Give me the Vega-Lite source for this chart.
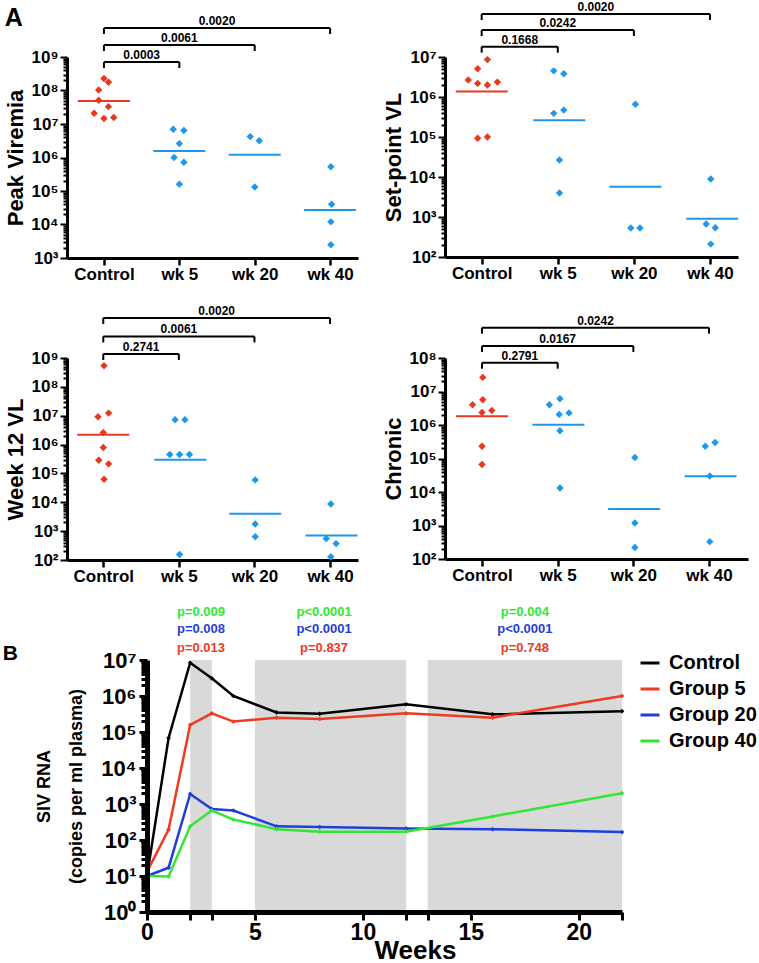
{
  "$schema": "https://vega.github.io/schema/vega-lite/v6.json",
  "background": "white",
  "padding": {"left": 2, "top": 0, "right": 0, "bottom": 0},
  "align": "none",
  "spacing": 22,
  "resolve": {"scale": {"color": "independent"}},
  "config": {
    "view": {"stroke": null},
    "font": "Liberation Sans",
    "axis": {"labelFont": "Liberation Sans", "titleFont": "Liberation Sans", "labelColor": "black", "titleColor": "black", "tickColor": "black", "domainColor": "black", "grid": false},
    "text": {"font": "Liberation Sans"},
    "title": {"font": "Liberation Sans", "color": "black"},
    "legend": {"labelFont": "Liberation Sans", "labelColor": "black"}
  },
  "datasets": {
    "pts": [
      {"p": "pk", "x": 0.0, "v": 2.27e8, "k": "c"},
      {"p": "pk", "x": 0.06, "v": 1.76e8, "k": "c"},
      {"p": "pk", "x": -0.07, "v": 1.04e8, "k": "c"},
      {"p": "pk", "x": -0.07, "v": 5.1e7, "k": "c"},
      {"p": "pk", "x": 0.06, "v": 3.3e7, "k": "c"},
      {"p": "pk", "x": -0.13, "v": 2.1e7, "k": "c"},
      {"p": "pk", "x": 0.0, "v": 1.46e7, "k": "c"},
      {"p": "pk", "x": 0.13, "v": 1.57e7, "k": "c"},
      {"p": "pk", "x": 0.92, "v": 7.0e6, "k": "t"},
      {"p": "pk", "x": 1.06, "v": 6.4e6, "k": "t"},
      {"p": "pk", "x": 1.0, "v": 2.6e6, "k": "t"},
      {"p": "pk", "x": 0.93, "v": 1.0e6, "k": "t"},
      {"p": "pk", "x": 1.06, "v": 7.2e5, "k": "t"},
      {"p": "pk", "x": 1.0, "v": 1.6e5, "k": "t"},
      {"p": "pk", "x": 1.94, "v": 4.2e6, "k": "t"},
      {"p": "pk", "x": 2.06, "v": 3.16e6, "k": "t"},
      {"p": "pk", "x": 2.0, "v": 1.32e5, "k": "t"},
      {"p": "pk", "x": 3.01, "v": 5.3e5, "k": "t"},
      {"p": "pk", "x": 3.02, "v": 4.0e4, "k": "t"},
      {"p": "pk", "x": 3.01, "v": 1.2e4, "k": "t"},
      {"p": "pk", "x": 3.01, "v": 2.5e3, "k": "t"},
      {"p": "sp", "x": 0.075, "v": 8.6e6, "k": "c"},
      {"p": "sp", "x": -0.053, "v": 5.1e6, "k": "c"},
      {"p": "sp", "x": -0.176, "v": 2.65e6, "k": "c"},
      {"p": "sp", "x": -0.053, "v": 2.19e6, "k": "c"},
      {"p": "sp", "x": 0.075, "v": 1.99e6, "k": "c"},
      {"p": "sp", "x": 0.207, "v": 2.36e6, "k": "c"},
      {"p": "sp", "x": -0.053, "v": 9.3e4, "k": "c"},
      {"p": "sp", "x": 0.075, "v": 1.0e5, "k": "c"},
      {"p": "sp", "x": 0.947, "v": 4.5e6, "k": "t"},
      {"p": "sp", "x": 1.079, "v": 3.8e6, "k": "t"},
      {"p": "sp", "x": 0.947, "v": 3.9e5, "k": "t"},
      {"p": "sp", "x": 1.079, "v": 4.7e5, "k": "t"},
      {"p": "sp", "x": 1.022, "v": 2.66e4, "k": "t"},
      {"p": "sp", "x": 1.022, "v": 4.0e3, "k": "t"},
      {"p": "sp", "x": 2.02, "v": 6.6e5, "k": "t"},
      {"p": "sp", "x": 1.96, "v": 5.3e2, "k": "t"},
      {"p": "sp", "x": 2.08, "v": 5.3e2, "k": "t"},
      {"p": "sp", "x": 3.01, "v": 8.9e3, "k": "t"},
      {"p": "sp", "x": 2.95, "v": 6.7e2, "k": "t"},
      {"p": "sp", "x": 3.07, "v": 5.4e2, "k": "t"},
      {"p": "sp", "x": 3.01, "v": 2.1e2, "k": "t"},
      {"p": "w12", "x": 0.01, "v": 5.4e8, "k": "c"},
      {"p": "w12", "x": -0.07, "v": 9.2e6, "k": "c"},
      {"p": "w12", "x": 0.07, "v": 1.23e7, "k": "c"},
      {"p": "w12", "x": 0.0, "v": 2.6e6, "k": "c"},
      {"p": "w12", "x": 0.0, "v": 7.9e5, "k": "c"},
      {"p": "w12", "x": -0.06, "v": 2.87e5, "k": "c"},
      {"p": "w12", "x": 0.07, "v": 2.14e5, "k": "c"},
      {"p": "w12", "x": 0.01, "v": 6.3e4, "k": "c"},
      {"p": "w12", "x": 0.95, "v": 7.2e6, "k": "t"},
      {"p": "w12", "x": 1.08, "v": 7.2e6, "k": "t"},
      {"p": "w12", "x": 0.88, "v": 4.5e5, "k": "t"},
      {"p": "w12", "x": 1.01, "v": 4.5e5, "k": "t"},
      {"p": "w12", "x": 1.14, "v": 4.5e5, "k": "t"},
      {"p": "w12", "x": 1.01, "v": 1.56e2, "k": "t"},
      {"p": "w12", "x": 2.01, "v": 5.96e4, "k": "t"},
      {"p": "w12", "x": 2.01, "v": 1.77e3, "k": "t"},
      {"p": "w12", "x": 2.01, "v": 6.4e2, "k": "t"},
      {"p": "w12", "x": 3.01, "v": 8.7e3, "k": "t"},
      {"p": "w12", "x": 2.95, "v": 5.5e2, "k": "t"},
      {"p": "w12", "x": 3.08, "v": 3.7e2, "k": "t"},
      {"p": "w12", "x": 3.01, "v": 1.3e2, "k": "t"},
      {"p": "chr", "x": 0.01, "v": 2.64e7, "k": "c"},
      {"p": "chr", "x": -0.125, "v": 4.0e6, "k": "c"},
      {"p": "chr", "x": 0.01, "v": 5.7e6, "k": "c"},
      {"p": "chr", "x": 0.13, "v": 2.7e6, "k": "c"},
      {"p": "chr", "x": 0.0, "v": 2.37e6, "k": "c"},
      {"p": "chr", "x": 0.0, "v": 2.33e5, "k": "c"},
      {"p": "chr", "x": 0.0, "v": 6.6e4, "k": "c"},
      {"p": "chr", "x": 1.03, "v": 6.1e6, "k": "t"},
      {"p": "chr", "x": 0.89, "v": 4.0e6, "k": "t"},
      {"p": "chr", "x": 1.02, "v": 2.07e6, "k": "t"},
      {"p": "chr", "x": 1.15, "v": 2.3e6, "k": "t"},
      {"p": "chr", "x": 1.03, "v": 6.7e5, "k": "t"},
      {"p": "chr", "x": 1.03, "v": 1.32e4, "k": "t"},
      {"p": "chr", "x": 2.02, "v": 1.07e5, "k": "t"},
      {"p": "chr", "x": 2.02, "v": 1.19e3, "k": "t"},
      {"p": "chr", "x": 2.02, "v": 2.2e2, "k": "t"},
      {"p": "chr", "x": 2.95, "v": 2.33e5, "k": "t"},
      {"p": "chr", "x": 3.08, "v": 3.0e5, "k": "t"},
      {"p": "chr", "x": 3.01, "v": 3.0e4, "k": "t"},
      {"p": "chr", "x": 3.01, "v": 3.3e2, "k": "t"}
    ],
    "med": [
      {"p": "pk", "g": 0, "v": 4.9e7, "k": "c"},
      {"p": "pk", "g": 1, "v": 1.56e6, "k": "t"},
      {"p": "pk", "g": 2, "v": 1.21e6, "k": "t"},
      {"p": "pk", "g": 3, "v": 2.7e4, "k": "t"},
      {"p": "sp", "g": 0, "v": 1.38e6, "k": "c"},
      {"p": "sp", "g": 1.02, "v": 2.63e5, "k": "t"},
      {"p": "sp", "g": 2.02, "v": 5.7e3, "k": "t"},
      {"p": "sp", "g": 3.03, "v": 9.0e2, "k": "t"},
      {"p": "w12", "g": 0, "v": 2.18e6, "k": "c"},
      {"p": "w12", "g": 1.02, "v": 3.0e5, "k": "t"},
      {"p": "w12", "g": 2.01, "v": 4.0e3, "k": "t"},
      {"p": "w12", "g": 3.02, "v": 7.0e2, "k": "t"},
      {"p": "chr", "g": 0, "v": 1.84e6, "k": "c"},
      {"p": "chr", "g": 1.01, "v": 1.01e6, "k": "t"},
      {"p": "chr", "g": 2.01, "v": 3.1e3, "k": "t"},
      {"p": "chr", "g": 3.02, "v": 2.95e4, "k": "t"}
    ],
    "brk": [
      {"p": "pk", "from": 0, "to": 1, "level": 7.1e8, "label": "0.0003"},
      {"p": "pk", "from": 0, "to": 2, "level": 2.28e9, "label": "0.0061"},
      {"p": "pk", "from": 0, "to": 3, "level": 7.35e9, "label": "0.0020"},
      {"p": "sp", "from": 0, "to": 1, "level": 1.81e7, "label": "0.1668"},
      {"p": "sp", "from": 0, "to": 2, "level": 4.73e7, "label": "0.0242"},
      {"p": "sp", "from": 0, "to": 3, "level": 1.19e8, "label": "0.0020"},
      {"p": "w12", "from": 0, "to": 1, "level": 1.38e9, "label": "0.2741"},
      {"p": "w12", "from": 0, "to": 2, "level": 5.6e9, "label": "0.0061"},
      {"p": "w12", "from": 0, "to": 3, "level": 2.44e10, "label": "0.0020"},
      {"p": "chr", "from": 0, "to": 1, "level": 7.24e7, "label": "0.2791"},
      {"p": "chr", "from": 0, "to": 2, "level": 2.29e8, "label": "0.0167"},
      {"p": "chr", "from": 0, "to": 3, "level": 8.06e8, "label": "0.0242"}
    ],
    "vl": [
      {"grp": "Control", "wk": 0, "v": 10}, {"grp": "Control", "wk": 1, "v": 6.8e4}, {"grp": "Control", "wk": 2, "v": 8.4e6}, {"grp": "Control", "wk": 3, "v": 3.1e6}, {"grp": "Control", "wk": 4, "v": 1.0e6}, {"grp": "Control", "wk": 6, "v": 3.5e5}, {"grp": "Control", "wk": 8, "v": 3.2e5}, {"grp": "Control", "wk": 12, "v": 5.9e5}, {"grp": "Control", "wk": 16, "v": 3.1e5}, {"grp": "Control", "wk": 22, "v": 3.8e5},
      {"grp": "Group 5", "wk": 0, "v": 13}, {"grp": "Group 5", "wk": 1, "v": 195}, {"grp": "Group 5", "wk": 2, "v": 1.58e5}, {"grp": "Group 5", "wk": 3, "v": 3.3e5}, {"grp": "Group 5", "wk": 4, "v": 1.95e5}, {"grp": "Group 5", "wk": 6, "v": 2.5e5}, {"grp": "Group 5", "wk": 8, "v": 2.3e5}, {"grp": "Group 5", "wk": 12, "v": 3.3e5}, {"grp": "Group 5", "wk": 16, "v": 2.5e5}, {"grp": "Group 5", "wk": 22, "v": 1.0e6},
      {"grp": "Group 20", "wk": 0, "v": 10}, {"grp": "Group 20", "wk": 1, "v": 17}, {"grp": "Group 20", "wk": 2, "v": 1900}, {"grp": "Group 20", "wk": 3, "v": 730}, {"grp": "Group 20", "wk": 4, "v": 660}, {"grp": "Group 20", "wk": 6, "v": 240}, {"grp": "Group 20", "wk": 8, "v": 230}, {"grp": "Group 20", "wk": 12, "v": 210}, {"grp": "Group 20", "wk": 16, "v": 200}, {"grp": "Group 20", "wk": 22, "v": 166},
      {"grp": "Group 40", "wk": 0, "v": 10}, {"grp": "Group 40", "wk": 1, "v": 9.7}, {"grp": "Group 40", "wk": 2, "v": 240}, {"grp": "Group 40", "wk": 3, "v": 660}, {"grp": "Group 40", "wk": 4, "v": 370}, {"grp": "Group 40", "wk": 6, "v": 200}, {"grp": "Group 40", "wk": 8, "v": 170}, {"grp": "Group 40", "wk": 12, "v": 170}, {"grp": "Group 40", "wk": 16, "v": 450}, {"grp": "Group 40", "wk": 22, "v": 2000}
    ],
    "pv": [
      {"x": 2.5, "v": 2.1e8, "grp": "Group 40", "label": "p=0.009"},
      {"x": 2.5, "v": 7.1e7, "grp": "Group 20", "label": "p=0.008"},
      {"x": 2.5, "v": 2.2e7, "grp": "Group 5", "label": "p=0.013"},
      {"x": 8.2, "v": 2.1e8, "grp": "Group 40", "label": "p<0.0001"},
      {"x": 8.2, "v": 7.1e7, "grp": "Group 20", "label": "p<0.0001"},
      {"x": 8.2, "v": 2.2e7, "grp": "Group 5", "label": "p=0.837"},
      {"x": 17.5, "v": 2.1e8, "grp": "Group 40", "label": "p=0.004"},
      {"x": 17.5, "v": 7.1e7, "grp": "Group 20", "label": "p<0.0001"},
      {"x": 17.5, "v": 2.1e7, "grp": "Group 5", "label": "p=0.748"}
    ],
    "shade": [
      {"x1": 2, "x2": 3}, {"x1": 5, "x2": 12}, {"x1": 13, "x2": 22}
    ]
  },
  "vconcat": [
    {
      "bounds": "flush",
      "align": "none",
      "spacing": 87,
      "hconcat": [
        {
          "width": 291, "height": 201,
          "title": {"text": "A", "anchor": "start", "frame": "bounds", "offset": -36, "fontSize": 25, "fontWeight": "bold", "baseline": "alphabetic"},
          "layer": [
            {"data": {"name": "pts"}, "transform": [{"filter": "datum.p === 'pk'"}],
             "mark": {"type": "point", "shape": "diamond", "filled": true, "size": 55, "opacity": 1},
             "encoding": {
               "x": {"field": "x", "type": "quantitative", "scale": {"domain": [-0.49, 3.37], "nice": false, "zero": false},
                     "axis": {"values": [0, 1, 2, 3], "labelExpr": "['Control','wk 5','wk 20','wk 40'][datum.value]", "labelFontSize": 17, "labelFontWeight": "bold", "labelPadding": 1, "labelFlush": false, "labelOverlap": false, "tickSize": 7, "tickWidth": 2.5, "domainWidth": 3, "title": null}},
               "y": {"field": "v", "type": "quantitative", "scale": {"type": "log", "domain": [1e3, 1e9], "nice": false},
                     "axis": {"values": [1e3,2e3,3e3,4e3,5e3,6e3,7e3,8e3,9e3,1e4,2e4,3e4,4e4,5e4,6e4,7e4,8e4,9e4,1e5,2e5,3e5,4e5,5e5,6e5,7e5,8e5,9e5,1e6,2e6,3e6,4e6,5e6,6e6,7e6,8e6,9e6,1e7,2e7,3e7,4e7,5e7,6e7,7e7,8e7,9e7,1e8,2e8,3e8,4e8,5e8,6e8,7e8,8e8,9e8,1e9],
                              "labelExpr": "abs(log(datum.value)/LN10 - round(log(datum.value)/LN10)) < 0.001 ? '10' + ['⁰','¹','²','³','⁴','⁵','⁶','⁷','⁸','⁹'][round(log(datum.value)/LN10)] : ''",
                              "labelFontSize": 17, "labelFontWeight": "bold", "labelPadding": 2, "labelOverlap": false, "labelFlush": false,
                              "tickSize": {"condition": {"test": "abs(log(datum.value)/LN10 - round(log(datum.value)/LN10)) < 0.001", "value": 7}, "value": 4},
                              "tickWidth": 2, "domainWidth": 3, "title": "Peak Viremia", "titleFontSize": 22, "titleFontWeight": "bold", "titlePadding": 3}},
               "color": {"field": "k", "type": "nominal", "scale": {"domain": ["c", "t"], "range": ["#E8391E", "#1E98EA"]}, "legend": null}
             }},
            {"data": {"name": "med"}, "transform": [{"filter": "datum.p === 'pk'"}],
             "mark": {"type": "tick", "orient": "horizontal", "size": 52, "thickness": 2, "opacity": 1},
             "encoding": {"x": {"field": "g", "type": "quantitative"}, "y": {"field": "v", "type": "quantitative"}, "color": {"field": "k", "type": "nominal"}}},
            {"data": {"name": "brk"}, "transform": [{"filter": "datum.p === 'pk'"}],
             "mark": {"type": "rule", "strokeWidth": 2, "color": "black"},
             "encoding": {"x": {"field": "from", "type": "quantitative"}, "x2": {"field": "to"}, "y": {"field": "level", "type": "quantitative"}}},
            {"data": {"name": "brk"}, "transform": [{"filter": "datum.p === 'pk'"}, {"fold": ["from", "to"], "as": ["end", "xe"]}],
             "mark": {"type": "tick", "orient": "vertical", "size": 6, "thickness": 2, "color": "black", "opacity": 1, "yOffset": 3},
             "encoding": {"x": {"field": "xe", "type": "quantitative"}, "y": {"field": "level", "type": "quantitative"}}},
            {"data": {"name": "brk"}, "transform": [{"filter": "datum.p === 'pk'"}, {"calculate": "(datum.from + datum.to) / 2", "as": "mid"}],
             "mark": {"type": "text", "fontSize": 12, "fontWeight": "bold", "baseline": "alphabetic", "dy": -3, "color": "black"},
             "encoding": {"x": {"field": "mid", "type": "quantitative"}, "y": {"field": "level", "type": "quantitative"}, "text": {"field": "label"}}}
          ]
        },
        {
          "width": 293, "height": 200,
          "layer": [
            {"data": {"name": "pts"}, "transform": [{"filter": "datum.p === 'sp'"}],
             "mark": {"type": "point", "shape": "diamond", "filled": true, "size": 55, "opacity": 1},
             "encoding": {
               "x": {"field": "x", "type": "quantitative", "scale": {"domain": [-0.482, 3.368], "nice": false, "zero": false},
                     "axis": {"values": [0, 1, 2, 3], "labelExpr": "['Control','wk 5','wk 20','wk 40'][datum.value]", "labelFontSize": 17, "labelFontWeight": "bold", "labelPadding": 1, "labelFlush": false, "labelOverlap": false, "tickSize": 7, "tickWidth": 2.5, "domainWidth": 3, "title": null}},
               "y": {"field": "v", "type": "quantitative", "scale": {"type": "log", "domain": [1e2, 1e7], "nice": false},
                     "axis": {"values": [1e2,2e2,3e2,4e2,5e2,6e2,7e2,8e2,9e2,1e3,2e3,3e3,4e3,5e3,6e3,7e3,8e3,9e3,1e4,2e4,3e4,4e4,5e4,6e4,7e4,8e4,9e4,1e5,2e5,3e5,4e5,5e5,6e5,7e5,8e5,9e5,1e6,2e6,3e6,4e6,5e6,6e6,7e6,8e6,9e6,1e7],
                              "labelExpr": "abs(log(datum.value)/LN10 - round(log(datum.value)/LN10)) < 0.001 ? '10' + ['⁰','¹','²','³','⁴','⁵','⁶','⁷','⁸','⁹'][round(log(datum.value)/LN10)] : ''",
                              "labelFontSize": 17, "labelFontWeight": "bold", "labelPadding": 2, "labelOverlap": false, "labelFlush": false,
                              "tickSize": {"condition": {"test": "abs(log(datum.value)/LN10 - round(log(datum.value)/LN10)) < 0.001", "value": 7}, "value": 4},
                              "tickWidth": 2, "domainWidth": 3, "title": "Set-point VL", "titleFontSize": 22, "titleFontWeight": "bold", "titlePadding": 3}},
               "color": {"field": "k", "type": "nominal", "scale": {"domain": ["c", "t"], "range": ["#E8391E", "#1E98EA"]}, "legend": null}
             }},
            {"data": {"name": "med"}, "transform": [{"filter": "datum.p === 'sp'"}],
             "mark": {"type": "tick", "orient": "horizontal", "size": 52, "thickness": 2, "opacity": 1},
             "encoding": {"x": {"field": "g", "type": "quantitative"}, "y": {"field": "v", "type": "quantitative"}, "color": {"field": "k", "type": "nominal"}}},
            {"data": {"name": "brk"}, "transform": [{"filter": "datum.p === 'sp'"}],
             "mark": {"type": "rule", "strokeWidth": 2, "color": "black"},
             "encoding": {"x": {"field": "from", "type": "quantitative"}, "x2": {"field": "to"}, "y": {"field": "level", "type": "quantitative"}}},
            {"data": {"name": "brk"}, "transform": [{"filter": "datum.p === 'sp'"}, {"fold": ["from", "to"], "as": ["end", "xe"]}],
             "mark": {"type": "tick", "orient": "vertical", "size": 6, "thickness": 2, "color": "black", "opacity": 1, "yOffset": 3},
             "encoding": {"x": {"field": "xe", "type": "quantitative"}, "y": {"field": "level", "type": "quantitative"}}},
            {"data": {"name": "brk"}, "transform": [{"filter": "datum.p === 'sp'"}, {"calculate": "(datum.from + datum.to) / 2", "as": "mid"}],
             "mark": {"type": "text", "fontSize": 12, "fontWeight": "bold", "baseline": "alphabetic", "dy": -3, "color": "black"},
             "encoding": {"x": {"field": "mid", "type": "quantitative"}, "y": {"field": "level", "type": "quantitative"}, "text": {"field": "label"}}}
          ]
        }
      ]
    },
    {
      "bounds": "flush",
      "align": "none",
      "spacing": 87,
      "hconcat": [
        {
          "width": 291, "height": 202,
          "layer": [
            {"data": {"name": "pts"}, "transform": [{"filter": "datum.p === 'w12'"}],
             "mark": {"type": "point", "shape": "diamond", "filled": true, "size": 55, "opacity": 1},
             "encoding": {
               "x": {"field": "x", "type": "quantitative", "scale": {"domain": [-0.48, 3.37], "nice": false, "zero": false},
                     "axis": {"values": [0, 1, 2, 3], "labelExpr": "['Control','wk 5','wk 20','wk 40'][datum.value]", "labelFontSize": 17, "labelFontWeight": "bold", "labelPadding": 1, "labelFlush": false, "labelOverlap": false, "tickSize": 7, "tickWidth": 2.5, "domainWidth": 3, "title": null}},
               "y": {"field": "v", "type": "quantitative", "scale": {"type": "log", "domain": [1e2, 1e9], "nice": false},
                     "axis": {"values": [1e2,2e2,3e2,4e2,5e2,6e2,7e2,8e2,9e2,1e3,2e3,3e3,4e3,5e3,6e3,7e3,8e3,9e3,1e4,2e4,3e4,4e4,5e4,6e4,7e4,8e4,9e4,1e5,2e5,3e5,4e5,5e5,6e5,7e5,8e5,9e5,1e6,2e6,3e6,4e6,5e6,6e6,7e6,8e6,9e6,1e7,2e7,3e7,4e7,5e7,6e7,7e7,8e7,9e7,1e8,2e8,3e8,4e8,5e8,6e8,7e8,8e8,9e8,1e9],
                              "labelExpr": "abs(log(datum.value)/LN10 - round(log(datum.value)/LN10)) < 0.001 ? '10' + ['⁰','¹','²','³','⁴','⁵','⁶','⁷','⁸','⁹'][round(log(datum.value)/LN10)] : ''",
                              "labelFontSize": 17, "labelFontWeight": "bold", "labelPadding": 2, "labelOverlap": false, "labelFlush": false,
                              "tickSize": {"condition": {"test": "abs(log(datum.value)/LN10 - round(log(datum.value)/LN10)) < 0.001", "value": 7}, "value": 4},
                              "tickWidth": 2, "domainWidth": 3, "title": "Week 12 VL", "titleFontSize": 22, "titleFontWeight": "bold", "titlePadding": 3}},
               "color": {"field": "k", "type": "nominal", "scale": {"domain": ["c", "t"], "range": ["#E8391E", "#1E98EA"]}, "legend": null}
             }},
            {"data": {"name": "med"}, "transform": [{"filter": "datum.p === 'w12'"}],
             "mark": {"type": "tick", "orient": "horizontal", "size": 52, "thickness": 2, "opacity": 1},
             "encoding": {"x": {"field": "g", "type": "quantitative"}, "y": {"field": "v", "type": "quantitative"}, "color": {"field": "k", "type": "nominal"}}},
            {"data": {"name": "brk"}, "transform": [{"filter": "datum.p === 'w12'"}],
             "mark": {"type": "rule", "strokeWidth": 2, "color": "black"},
             "encoding": {"x": {"field": "from", "type": "quantitative"}, "x2": {"field": "to"}, "y": {"field": "level", "type": "quantitative"}}},
            {"data": {"name": "brk"}, "transform": [{"filter": "datum.p === 'w12'"}, {"fold": ["from", "to"], "as": ["end", "xe"]}],
             "mark": {"type": "tick", "orient": "vertical", "size": 6, "thickness": 2, "color": "black", "opacity": 1, "yOffset": 3},
             "encoding": {"x": {"field": "xe", "type": "quantitative"}, "y": {"field": "level", "type": "quantitative"}}},
            {"data": {"name": "brk"}, "transform": [{"filter": "datum.p === 'w12'"}, {"calculate": "(datum.from + datum.to) / 2", "as": "mid"}],
             "mark": {"type": "text", "fontSize": 12, "fontWeight": "bold", "baseline": "alphabetic", "dy": -3, "color": "black"},
             "encoding": {"x": {"field": "mid", "type": "quantitative"}, "y": {"field": "level", "type": "quantitative"}, "text": {"field": "label"}}}
          ]
        },
        {
          "width": 303, "height": 201,
          "layer": [
            {"data": {"name": "pts"}, "transform": [{"filter": "datum.p === 'chr'"}],
             "mark": {"type": "point", "shape": "diamond", "filled": true, "size": 55, "opacity": 1},
             "encoding": {
               "x": {"field": "x", "type": "quantitative", "scale": {"domain": [-0.489, 3.515], "nice": false, "zero": false},
                     "axis": {"values": [0, 1, 2, 3], "labelExpr": "['Control','wk 5','wk 20','wk 40'][datum.value]", "labelFontSize": 17, "labelFontWeight": "bold", "labelPadding": 1, "labelFlush": false, "labelOverlap": false, "tickSize": 7, "tickWidth": 2.5, "domainWidth": 3, "title": null}},
               "y": {"field": "v", "type": "quantitative", "scale": {"type": "log", "domain": [1e2, 1e8], "nice": false},
                     "axis": {"values": [1e2,2e2,3e2,4e2,5e2,6e2,7e2,8e2,9e2,1e3,2e3,3e3,4e3,5e3,6e3,7e3,8e3,9e3,1e4,2e4,3e4,4e4,5e4,6e4,7e4,8e4,9e4,1e5,2e5,3e5,4e5,5e5,6e5,7e5,8e5,9e5,1e6,2e6,3e6,4e6,5e6,6e6,7e6,8e6,9e6,1e7,2e7,3e7,4e7,5e7,6e7,7e7,8e7,9e7,1e8],
                              "labelExpr": "abs(log(datum.value)/LN10 - round(log(datum.value)/LN10)) < 0.001 ? '10' + ['⁰','¹','²','³','⁴','⁵','⁶','⁷','⁸','⁹'][round(log(datum.value)/LN10)] : ''",
                              "labelFontSize": 17, "labelFontWeight": "bold", "labelPadding": 2, "labelOverlap": false, "labelFlush": false,
                              "tickSize": {"condition": {"test": "abs(log(datum.value)/LN10 - round(log(datum.value)/LN10)) < 0.001", "value": 7}, "value": 4},
                              "tickWidth": 2, "domainWidth": 3, "title": "Chronic", "titleFontSize": 22, "titleFontWeight": "bold", "titlePadding": 3}},
               "color": {"field": "k", "type": "nominal", "scale": {"domain": ["c", "t"], "range": ["#E8391E", "#1E98EA"]}, "legend": null}
             }},
            {"data": {"name": "med"}, "transform": [{"filter": "datum.p === 'chr'"}],
             "mark": {"type": "tick", "orient": "horizontal", "size": 52, "thickness": 2, "opacity": 1},
             "encoding": {"x": {"field": "g", "type": "quantitative"}, "y": {"field": "v", "type": "quantitative"}, "color": {"field": "k", "type": "nominal"}}},
            {"data": {"name": "brk"}, "transform": [{"filter": "datum.p === 'chr'"}],
             "mark": {"type": "rule", "strokeWidth": 2, "color": "black"},
             "encoding": {"x": {"field": "from", "type": "quantitative"}, "x2": {"field": "to"}, "y": {"field": "level", "type": "quantitative"}}},
            {"data": {"name": "brk"}, "transform": [{"filter": "datum.p === 'chr'"}, {"fold": ["from", "to"], "as": ["end", "xe"]}],
             "mark": {"type": "tick", "orient": "vertical", "size": 6, "thickness": 2, "color": "black", "opacity": 1, "yOffset": 3},
             "encoding": {"x": {"field": "xe", "type": "quantitative"}, "y": {"field": "level", "type": "quantitative"}}},
            {"data": {"name": "brk"}, "transform": [{"filter": "datum.p === 'chr'"}, {"calculate": "(datum.from + datum.to) / 2", "as": "mid"}],
             "mark": {"type": "text", "fontSize": 12, "fontWeight": "bold", "baseline": "alphabetic", "dy": -3, "color": "black"},
             "encoding": {"x": {"field": "mid", "type": "quantitative"}, "y": {"field": "level", "type": "quantitative"}, "text": {"field": "label"}}}
          ]
        }
      ]
    },
    {
      "width": 555, "height": 252,
      "title": {"text": "B", "anchor": "start", "frame": "bounds", "dx": -33, "offset": -75, "fontSize": 21, "fontWeight": "bold", "baseline": "alphabetic"},
      "layer": [
        {"data": {"name": "shade"},
         "mark": {"type": "rect", "color": "#D9D9D9", "opacity": 1},
         "encoding": {
           "x": {"field": "x1", "type": "quantitative", "scale": {"domain": [0, 22], "range": [80, 555], "nice": false, "zero": false},
                 "axis": {"values": [0, 2, 3, 5, 10, 12, 13, 15, 20, 22], "labelExpr": "datum.value % 5 === 0 ? datum.label : ''", "labelFontSize": 23, "labelFontWeight": "bold", "labelPadding": 1, "labelFlush": false, "labelOverlap": false, "tickSize": 8, "tickWidth": 3, "domainWidth": 5, "zindex": 1,
                          "title": "Weeks", "titleFontSize": 26, "titleFontWeight": "bold", "titleX": 348, "titleY": 46, "titleBaseline": "alphabetic"}},
           "x2": {"field": "x2"}
         }},
        {"data": {"name": "vl"},
         "mark": {"type": "line", "strokeWidth": 2.5, "point": {"shape": "diamond", "size": 22, "filled": true, "opacity": 1}},
         "encoding": {
           "x": {"field": "wk", "type": "quantitative"},
           "y": {"field": "v", "type": "quantitative", "scale": {"type": "log", "domain": [1, 1e7], "nice": false},
                 "axis": {"values": [1,2,3,4,5,6,7,8,9,10,20,30,40,50,60,70,80,90,100,200,300,400,500,600,700,800,900,1e3,2e3,3e3,4e3,5e3,6e3,7e3,8e3,9e3,1e4,2e4,3e4,4e4,5e4,6e4,7e4,8e4,9e4,1e5,2e5,3e5,4e5,5e5,6e5,7e5,8e5,9e5,1e6,2e6,3e6,4e6,5e6,6e6,7e6,8e6,9e6,1e7],
                          "labelExpr": "abs(log(datum.value)/LN10 - round(log(datum.value)/LN10)) < 0.001 ? '10' + ['⁰','¹','²','³','⁴','⁵','⁶','⁷','⁸','⁹'][round(log(datum.value)/LN10)] : ''",
                          "labelFontSize": 22, "labelFontWeight": "bold", "labelPadding": 3, "labelOverlap": false, "labelFlush": false,
                          "tickSize": {"condition": {"test": "abs(log(datum.value)/LN10 - round(log(datum.value)/LN10)) < 0.001", "value": 8}, "value": 6},
                          "tickWidth": 3, "domainWidth": 5, "zindex": 1, "offset": -80,
                          "title": ["SIV RNA", "(copies per ml plasma)"], "titleFontSize": 18, "titleFontWeight": "bold", "titleLineHeight": 32, "titlePadding": 15}},
           "color": {"field": "grp", "type": "nominal", "scale": {"domain": ["Control", "Group 5", "Group 20", "Group 40"], "range": ["#000000", "#EE3A1F", "#1F3EDB", "#33E633"]},
                     "legend": {"title": null, "orient": "none", "legendX": 572, "legendY": -8, "padding": 0, "labelFontSize": 20, "labelFontWeight": "bold", "symbolType": "stroke", "symbolSize": 361, "symbolStrokeWidth": 3, "labelOffset": 8, "rowPadding": 5, "labelLimit": 0}}
         }},
        {"data": {"name": "pv"},
         "mark": {"type": "text", "fontSize": 13, "fontWeight": "bold", "baseline": "middle"},
         "encoding": {
           "x": {"field": "x", "type": "quantitative"},
           "y": {"field": "v", "type": "quantitative"},
           "text": {"field": "label"},
           "color": {"field": "grp", "type": "nominal"}
         }}
      ]
    }
  ]
}
